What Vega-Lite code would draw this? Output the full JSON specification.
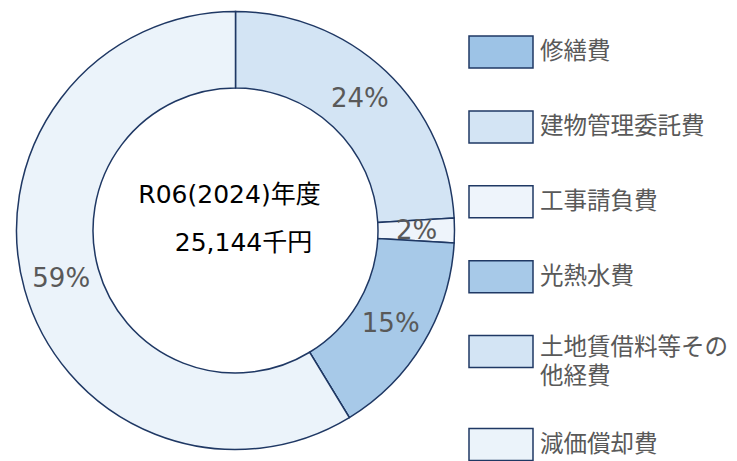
{
  "$schema": "https://vega.github.io/schema/vega-lite/v6.json",
  "width": 471,
  "height": 461,
  "autosize": {"type": "none"},
  "padding": {"left": 0, "top": 0, "right": 266, "bottom": 0},
  "background": "white",
  "config": {"view": {"stroke": null}, "font": "Noto Sans CJK JP"},
  "data": {
    "values": [
      {"idx": 1, "item": "修繕費", "share": 0},
      {"idx": 2, "item": "建物管理委託費", "share": 0.241},
      {"idx": 3, "item": "工事請負費", "share": 0.018},
      {"idx": 4, "item": "光熱水費", "share": 0.154},
      {"idx": 5, "item": "土地賃借料等その他経費", "share": 0},
      {"idx": 6, "item": "減価償却費", "share": 0.587}
    ]
  },
  "layer": [
    {
      "mark": {"type": "arc", "outerRadius": 219, "innerRadius": 142.5, "stroke": "#1F3864", "strokeWidth": 1.5},
      "encoding": {
        "theta": {"field": "share", "type": "quantitative", "stack": true},
        "order": {"field": "idx", "type": "quantitative"},
        "color": {
          "field": "item",
          "type": "nominal",
          "scale": {
            "domain": ["修繕費", "建物管理委託費", "工事請負費", "光熱水費", "土地賃借料等その他経費", "減価償却費"],
            "range": ["#9DC3E6", "#D3E4F4", "#EEF4FB", "#A7C9E8", "#D3E4F4", "#EBF3FA"]
          },
          "legend": {
            "orient": "none",
            "legendX": 468,
            "legendY": 19,
            "title": null,
            "padding": 0,
            "symbolType": "M-1,-0.5H1V0.5H-1Z",
            "symbolSize": 4096,
            "symbolStrokeColor": "#1F3864",
            "symbolStrokeWidth": 1.5,
            "labelFont": "Noto Sans CJK JP",
            "labelFontSize": 23.5,
            "labelColor": "#595959",
            "labelLimit": 300,
            "labelOffset": 6,
            "rowPadding": 22.9,
            "labelExpr": "datum.label == '土地賃借料等その他経費' ? ['土地賃借料等その', '他経費'] : datum.label",
            "encode": {
              "labels": {
                "update": {
                  "lineHeight": {"value": 29},
                  "dy": {"signal": "datum.label == '土地賃借料等その他経費' ? -4 : 0"}
                }
              }
            }
          }
        }
      }
    },
    {
      "transform": [{"filter": "datum.share > 0"}],
      "mark": {"type": "text", "radius": 181, "fontSize": 26, "fill": "#595959", "font": "DejaVu Sans, Noto Sans CJK JP"},
      "encoding": {
        "theta": {"field": "share", "type": "quantitative", "stack": true},
        "order": {"field": "idx", "type": "quantitative"},
        "text": {"field": "share", "type": "quantitative", "format": ".0%"}
      }
    },
    {
      "data": {"values": [{"t": "R06(2024)年度"}]},
      "mark": {"type": "text", "fontSize": 25, "fill": "#000000", "dx": -6, "dy": -36, "font": "DejaVu Sans, Noto Sans CJK JP"},
      "encoding": {"text": {"field": "t", "type": "nominal"}}
    },
    {
      "data": {"values": [{"t": "25,144千円"}]},
      "mark": {"type": "text", "fontSize": 25, "fill": "#000000", "dx": 8, "dy": 12, "font": "DejaVu Sans, Noto Sans CJK JP"},
      "encoding": {"text": {"field": "t", "type": "nominal"}}
    }
  ]
}
